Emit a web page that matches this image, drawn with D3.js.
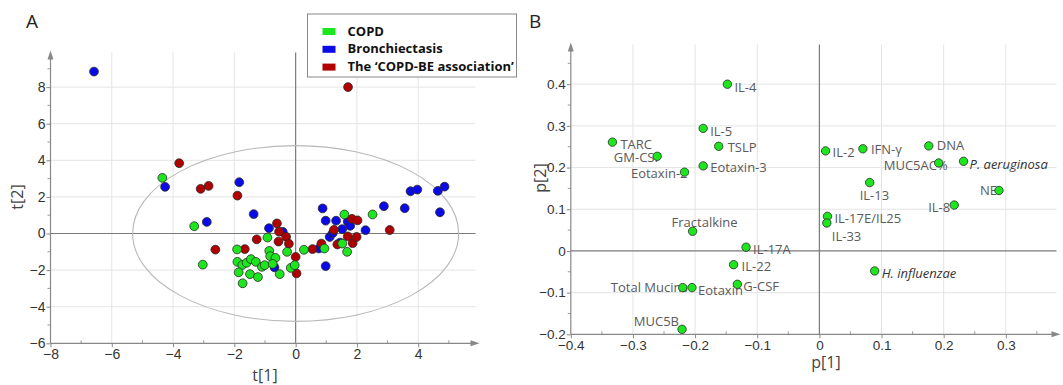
<!DOCTYPE html>
<html>
<head>
<meta charset="utf-8">
<script src="https://cdn.jsdelivr.net/npm/d3@7"></script>
<style>
  body { margin: 0; background: #fff; }
  svg { display: block; font-family: 'Open Sans', 'DejaVu Sans', sans-serif; }
</style>
</head>
<body>
<svg id="chart" width="1063" height="385"></svg>
<script>
// ---- data: score plot (t[1], t[2]) ----
var copdScores = [
  [-4.35, 3.04], [-3.31, 0.40], [-3.03, -1.70], [-1.91, -0.87], [-1.90, -1.55],
  [-1.74, -1.72], [-1.86, -2.12], [-1.73, -2.72], [-1.60, -1.60], [-1.46, -1.40],
  [-1.30, -1.55], [-1.49, -2.22], [-1.23, -2.38], [-1.10, -1.82], [-1.01, -1.73],
  [-0.92, -0.22], [-0.86, -0.95], [-0.83, -1.24], [-0.66, -1.33], [-0.75, -1.66],
  [-0.52, -2.22], [-0.28, -1.00], [-0.16, -1.88], [-0.03, -1.73], [0.27, -0.89],
  [0.94, -0.82], [1.59, 1.04], [1.52, -0.55], [1.68, -1.00], [2.51, 1.04]
];
var beScores = [
  [-6.58, 8.85], [-4.26, 2.55], [-2.90, 0.63], [-1.84, 2.80], [-1.37, 1.06],
  [-0.87, 0.29], [-0.42, 0.09], [-0.69, -1.85], [0.88, 1.37], [0.98, 0.70],
  [1.32, 0.70], [0.98, -1.78], [0.76, -0.82], [1.11, -0.19], [1.21, 0.02],
  [1.52, 0.24], [1.70, 0.65], [1.78, 0.42], [2.28, 0.18], [2.88, 1.49],
  [3.56, 1.38], [3.75, 2.31], [3.97, 2.40], [4.64, 2.33], [4.86, 2.56],
  [4.71, 1.16], [1.45, -0.50]
];
var assocScores = [
  [-3.80, 3.84], [-3.10, 2.44], [-2.84, 2.60], [-1.90, 2.07], [-2.62, -0.88],
  [-1.66, -0.85], [-1.27, -0.32], [-0.61, 0.55], [-0.54, 0.10], [-0.56, -0.44],
  [-0.31, -0.18], [-0.22, -0.56], [0.00, -1.28], [0.03, -2.18], [0.55, -0.85],
  [1.71, 8.00], [1.25, 0.20], [1.36, -0.60], [1.70, -0.16], [1.84, 0.80],
  [2.02, 0.72], [1.86, -0.53], [1.99, -0.19], [3.07, 0.19], [0.84, -0.55]
];
var groupNames = ['COPD', 'Bronchiectasis', 'The \u2018COPD-BE association\u2019'];
var ellipseRadii = [5.32, 4.8]; // Hotelling T2 ellipse, t[1] and t[2]

var scoreTicksX = [-8, -6, -4, -2, 0, 2, 4];
var scoreTicksY = [-6, -4, -2, 0, 2, 4, 6, 8];

// ---- data: loading plot (p[1], p[2]) ----
var loadingNames = ['IL-4', 'IL-5', 'TARC', 'GM-CSF', 'TSLP', 'Eotaxin-3', 'Eotaxin-2',
  'Fractalkine', 'IL-17A', 'IL-22', 'G-CSF', 'Total Mucins', 'Eotaxin', 'MUC5B',
  'IL-2', 'IFN-\u03b3', 'DNA', 'MUC5AC%', 'P. aeruginosa', 'IL-13', 'NE', 'IL-8',
  'IL-17E/IL25', 'IL-33', 'H. influenzae'];
var loadingP1 = [-0.148, -0.187, -0.333, -0.261, -0.162, -0.187, -0.217,
  -0.204, -0.118, -0.138, -0.132, -0.220, -0.205, -0.221,
  0.010, 0.070, 0.176, 0.192, 0.232, 0.081, 0.289, 0.217,
  0.013, 0.012, 0.089];
var loadingP2 = [0.400, 0.294, 0.261, 0.227, 0.251, 0.204, 0.189,
  0.047, 0.009, -0.033, -0.080, -0.088, -0.088, -0.188,
  0.240, 0.245, 0.252, 0.211, 0.215, 0.164, 0.145, 0.110,
  0.083, 0.067, -0.048];

var loadingTicksX = [-0.4, -0.3, -0.2, -0.1, 0, 0.1, 0.2, 0.3];
var loadingTicksY = [-0.2, -0.1, 0, 0.1, 0.2, 0.3, 0.4];

// label placement beside each point: [dx, dy, anchor]
var labelPlace = {
  'IL-4': [7, 3, 'start'], 'IL-5': [7, 3, 'start'], 'TARC': [8, 2, 'start'],
  'GM-CSF': [4, 1, 'end'], 'TSLP': [9, 1, 'start'], 'Eotaxin-3': [7, 2, 'start'],
  'Eotaxin-2': [3, 1, 'end'], 'Fractalkine': [-21, -9, 'start'], 'IL-17A': [7, 2, 'start'],
  'IL-22': [8, 2, 'start'], 'G-CSF': [6, 2, 'start'], 'Total Mucins': [5, 0, 'end'],
  'Eotaxin': [6, 3, 'start'], 'MUC5B': [-3, -8, 'end'], 'IL-2': [7, 2, 'start'],
  'IFN-\u03b3': [8, 1, 'start'], 'DNA': [8, 0, 'start'], 'MUC5AC%': [9, 2, 'end'],
  'P. aeruginosa': [6, 3, 'start'], 'IL-13': [-10, 13, 'start'], 'NE': [-2, 0, 'end'],
  'IL-8': [-4, 2, 'end'], 'IL-17E/IL25': [7, 2, 'start'], 'IL-33': [5, 13, 'start'],
  'H. influenzae': [7, 3, 'start']
};
var italicNames = ['P. aeruginosa', 'H. influenzae'];

var groupColors = ['#1ee61e', '#0a0ae6', '#b00000'];

var svg = d3.select('#chart');

function drawFrame(g, x, y, xTicks, yTicks, xMinor, yMinor, fmt, fontSize) {
  var x0 = x.range()[0], x1 = x.range()[1];
  var y0 = y.range()[0], y1 = y.range()[1];

  // grid
  g.selectAll('.vgrid')
    .data(xTicks.filter(function(d) { return d !== 0 && d !== xTicks[0]; }))
    .enter().append('line')
    .attr('x1', function(d) { return x(d); })
    .attr('x2', function(d) { return x(d); })
    .attr('y1', y0).attr('y2', y1 + 2)
    .attr('stroke', '#e4e4e4');
  g.selectAll('.hgrid')
    .data(yTicks.filter(function(d) { return d !== 0 && d !== yTicks[0]; }))
    .enter().append('line')
    .attr('y1', function(d) { return y(d); })
    .attr('y2', function(d) { return y(d); })
    .attr('x1', x0).attr('x2', x1 - 4)
    .attr('stroke', '#e4e4e4');

  // zero lines
  g.append('line')
    .attr('x1', x(0)).attr('x2', x(0))
    .attr('y1', y0).attr('y2', y1 + 2)
    .attr('stroke', '#7a7a7a').attr('stroke-width', 1.2);
  g.append('line')
    .attr('x1', x0).attr('x2', x1 - 4)
    .attr('y1', y(0)).attr('y2', y(0))
    .attr('stroke', '#7a7a7a').attr('stroke-width', 1.2);

  // axes
  var xAxis = g.append('g')
    .attr('transform', 'translate(0,' + y0 + ')')
    .call(d3.axisBottom(x).tickValues(xTicks).tickSize(4).tickPadding(2).tickFormat(fmt));
  var yAxis = g.append('g')
    .attr('transform', 'translate(' + x0 + ',0)')
    .call(d3.axisLeft(y).tickValues(yTicks).tickSize(4).tickPadding(1).tickFormat(fmt));
  [xAxis, yAxis].forEach(function(a) {
    a.select('.domain').remove();
    a.selectAll('line').attr('stroke', '#888');
    a.selectAll('text').attr('fill', '#333').style('font-size', fontSize + 'px');
  });

  // minor ticks
  g.selectAll('.xminor').data(xMinor).enter().append('line')
    .attr('x1', function(d) { return x(d); }).attr('x2', function(d) { return x(d); })
    .attr('y1', y0).attr('y2', y0 - 3).attr('stroke', '#999');
  g.selectAll('.yminor').data(yMinor).enter().append('line')
    .attr('y1', function(d) { return y(d); }).attr('y2', function(d) { return y(d); })
    .attr('x1', x0).attr('x2', x0 - 3).attr('stroke', '#999');

  // axis lines with arrow heads
  g.append('line').attr('x1', x0).attr('x2', x1 - 4).attr('y1', y0).attr('y2', y0)
    .attr('stroke', '#888').attr('stroke-width', 1.2);
  g.append('line').attr('x1', x0).attr('x2', x0).attr('y1', y0).attr('y2', y1 + 4)
    .attr('stroke', '#888').attr('stroke-width', 1.2);
  g.append('path')
    .attr('d', 'M' + x1 + ',' + y0 + 'l-9,-3l0,6z').attr('fill', '#888');
  g.append('path')
    .attr('d', 'M' + x0 + ',' + y1 + 'l-3,9l6,0z').attr('fill', '#888');
}

// ================= Panel A =================
var xA = d3.scaleLinear().domain([-8, 6]).range([50.5, 479.5]);
var yA = d3.scaleLinear().domain([-6, 10]).range([343.3, 50.5]);
var gA = svg.append('g');

drawFrame(gA, xA, yA, scoreTicksX, scoreTicksY,
  [-7, -5, -3, -1, 1, 3, 5], [-5, -3, -1, 1, 3, 5, 7, 9], d3.format('d'), 14);

gA.append('ellipse')
  .attr('cx', xA(0)).attr('cy', yA(0))
  .attr('rx', xA(ellipseRadii[0]) - xA(0))
  .attr('ry', yA(0) - yA(ellipseRadii[1]))
  .attr('fill', 'none').attr('stroke', '#b8b8b8').attr('stroke-width', 1.1);

var scoreSets = [
  { pts: beScores, color: groupColors[1] },
  { pts: assocScores, color: groupColors[2] },
  { pts: copdScores, color: groupColors[0] }
];
scoreSets.forEach(function(s) {
  gA.append('g').selectAll('circle')
    .data(s.pts).enter().append('circle')
    .attr('cx', function(d) { return xA(d[0]); })
    .attr('cy', function(d) { return yA(d[1]); })
    .attr('r', 4.4)
    .attr('fill', s.color)
    .attr('stroke', '#2a2a2a').attr('stroke-width', 0.8);
});

gA.append('text').attr('x', 265).attr('y', 381)
  .attr('text-anchor', 'middle').attr('fill', '#444').style('font-size', '16px')
  .text('t[1]');
gA.append('text').attr('transform', 'translate(23,197) rotate(-90)')
  .attr('text-anchor', 'middle').attr('fill', '#444').style('font-size', '16px')
  .text('t[2]');
gA.append('text').attr('x', 26).attr('y', 28)
  .attr('fill', '#222').style('font-size', '19px').text('A');

// legend
var leg = gA.append('g').attr('transform', 'translate(307.5,14)');
leg.append('rect').attr('width', 209).attr('height', 63)
  .attr('fill', '#fff').attr('stroke', '#888').attr('stroke-width', 1);
leg.selectAll('.sw').data(groupNames).enter().append('rect')
  .attr('x', 15).attr('y', function(d, i) { return 14 + i * 17.8; })
  .attr('width', 13).attr('height', 7)
  .attr('fill', function(d, i) { return groupColors[i]; });
leg.selectAll('.lt').data(groupNames).enter().append('text')
  .attr('x', 40).attr('y', function(d, i) { return 21.5 + i * 17.8; })
  .attr('fill', '#111').style('font-size', '13px').style('font-weight', 'bold')
  .text(function(d) { return d; });

// ================= Panel B =================
var xB = d3.scaleLinear().domain([-0.4, 0.388]).range([570.8, 1060.5]);
var yB = d3.scaleLinear().domain([-0.2, 0.5]).range([334.3, 42.5]);
var gB = svg.append('g');

var fmtB = function(d) { return d === 0 ? '0' : d3.format('.1f')(d); };
drawFrame(gB, xB, yB, loadingTicksX, loadingTicksY,
  [-0.35, -0.25, -0.15, -0.05, 0.05, 0.15, 0.25, 0.35],
  [-0.15, -0.05, 0.05, 0.15, 0.25, 0.35, 0.45], fmtB, 13.5);

var loadings = loadingNames.map(function(n, i) {
  return { name: n, p1: loadingP1[i], p2: loadingP2[i] };
});

gB.selectAll('.lab').data(loadings).enter().append('text')
  .attr('x', function(d) { return xB(d.p1) + labelPlace[d.name][0]; })
  .attr('y', function(d) { return yB(d.p2) + labelPlace[d.name][1]; })
  .attr('dy', '0.35em')
  .attr('text-anchor', function(d) { return labelPlace[d.name][2]; })
  .attr('fill', function(d) { return italicNames.indexOf(d.name) >= 0 ? '#333' : '#5a5a5a'; })
  .style('font-style', function(d) { return italicNames.indexOf(d.name) >= 0 ? 'italic' : 'normal'; })
  .style('font-size', '13px')
  .text(function(d) { return d.name; });

gB.selectAll('.pt').data(loadings).enter().append('circle')
  .attr('cx', function(d) { return xB(d.p1); })
  .attr('cy', function(d) { return yB(d.p2); })
  .attr('r', 4.2)
  .attr('fill', groupColors[0])
  .attr('stroke', '#2a2a2a').attr('stroke-width', 0.8);

gB.append('text').attr('x', 826).attr('y', 368)
  .attr('text-anchor', 'middle').attr('fill', '#444').style('font-size', '16px')
  .text('p[1]');
gB.append('text').attr('transform', 'translate(546,178) rotate(-90)')
  .attr('text-anchor', 'middle').attr('fill', '#444').style('font-size', '16px')
  .text('p[2]');
gB.append('text').attr('x', 529).attr('y', 28)
  .attr('fill', '#222').style('font-size', '19px').text('B');
</script>
</body>
</html>
